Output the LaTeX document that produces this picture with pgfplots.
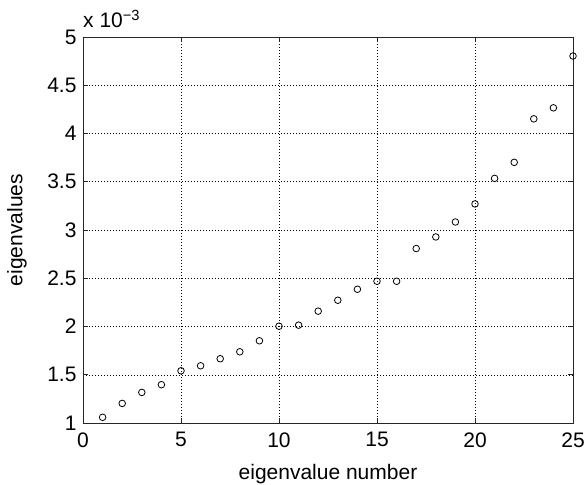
\documentclass[border=0pt]{standalone}
\usepackage{pgfplots}
\pgfplotsset{compat=1.18}
\usepackage{fontspec}
\setmainfont{Liberation Sans}
\begin{document}
\begin{tikzpicture}
\pgfplotstableread{
n val
1 1.059e-3
2 1.203e-3
3 1.317e-3
4 1.397e-3
5 1.541e-3
6 1.593e-3
7 1.666e-3
8 1.738e-3
9 1.852e-3
10 2.003e-3
11 2.014e-3
12 2.159e-3
13 2.272e-3
14 2.386e-3
15 2.469e-3
16 2.469e-3
17 2.808e-3
18 2.928e-3
19 3.083e-3
20 3.270e-3
21 3.535e-3
22 3.701e-3
23 4.152e-3
24 4.266e-3
25 4.803e-3
}\eigtable
\begin{axis}[
  scale only axis,
  width=490pt, height=386pt,
  xmin=0, xmax=25, ymin=0.001, ymax=0.005,
  xtick={0,5,10,15,20,25},
  ytick={0.001,0.0015,0.002,0.0025,0.003,0.0035,0.004,0.0045,0.005},
  yticklabels={1,1.5,2,2.5,3,3.5,4,4.5,5},
  scaled y ticks=false,
  /pgf/number format/assume math mode=true,
  tick label style={font=\fontsize{21}{25}\selectfont},
  xticklabel style={yshift=-6pt},
  yticklabel style={xshift=-3pt},
  label style={font=\fontsize{21}{25}\selectfont},
  xlabel={eigenvalue number},
  ylabel={eigenvalues},
  xlabel style={at={(axis description cs:0.5,0)}, anchor=center, yshift=-51pt},
  ylabel style={at={(axis description cs:-0.135,0.5)}, anchor=center},
  grid=major,
  major grid style={black, line width=0.5pt, dash pattern=on 1pt off 2pt},
  axis line style={black!85, line width=0.8pt},
  tick align=inside,
  major tick length=5pt,
  tick style={black!85, line width=0.8pt},
  clip=false,
]
\addplot[only marks, mark=o, mark size=3.3pt, black, line width=0.8pt] table[x=n, y=val] {\eigtable};
\node[anchor=base west, inner sep=0pt, font=\fontsize{21}{25}\selectfont] at ([yshift=9pt]rel axis cs:0,1) {x 10\textsuperscript{−3}};
\end{axis}
\pgfresetboundingbox
\path (current axis.south west) ++(-83pt,-61pt) rectangle ++(585pt,484pt);
\end{tikzpicture}
\end{document}
